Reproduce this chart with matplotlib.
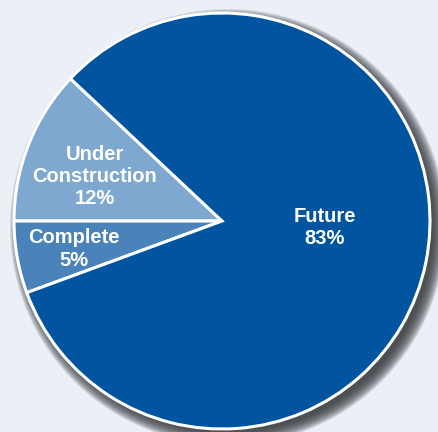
import matplotlib.pyplot as plt
from matplotlib.patches import Circle

labels = ['Under\nConstruction', 'Complete', 'Future']
pct_text = ['12%', '5%', '83%']
shares = [12.0, 5.6, 82.4]
colors = ['#7FA8D0', '#4A82BA', '#0054A0']

W, H = 439, 432
cx, cy, r = 222, 211, 208

fig = plt.figure(figsize=(W / 100, H / 100), dpi=100)
fig.patch.set_facecolor('#EBF0F7')
ax = fig.add_axes([0, 0, 1, 1])

# blurred shadow to the lower right
for i in range(14):
    ax.add_patch(Circle((cx + 6, cy - 6), r + 10 - i, color='#3a3d42', alpha=0.14, lw=0, zorder=1))

start = 180 - shares[0] * 3.6
ax.pie(shares, colors=colors, startangle=start, counterclock=True,
       center=(cx, cy), radius=r, frame=True,
       wedgeprops=dict(edgecolor='white', linewidth=2.2, zorder=2))
ax.set_xlim(0, W)
ax.set_ylim(0, H)
ax.set_aspect('equal')
ax.axis('off')

txt = dict(color='white', fontsize=14.5, fontweight='bold', family='Liberation Sans',
           ha='center', va='center', linespacing=1.2, zorder=5)
ax.text(95, 256, f'{labels[0]}\n{pct_text[0]}', **txt)
ax.text(74, 183, f'{labels[1]}\n{pct_text[1]}', **txt)
ax.text(325, 204, f'{labels[2]}\n{pct_text[2]}', **txt)

fig.savefig('out.png', dpi=100, facecolor=fig.get_facecolor())
